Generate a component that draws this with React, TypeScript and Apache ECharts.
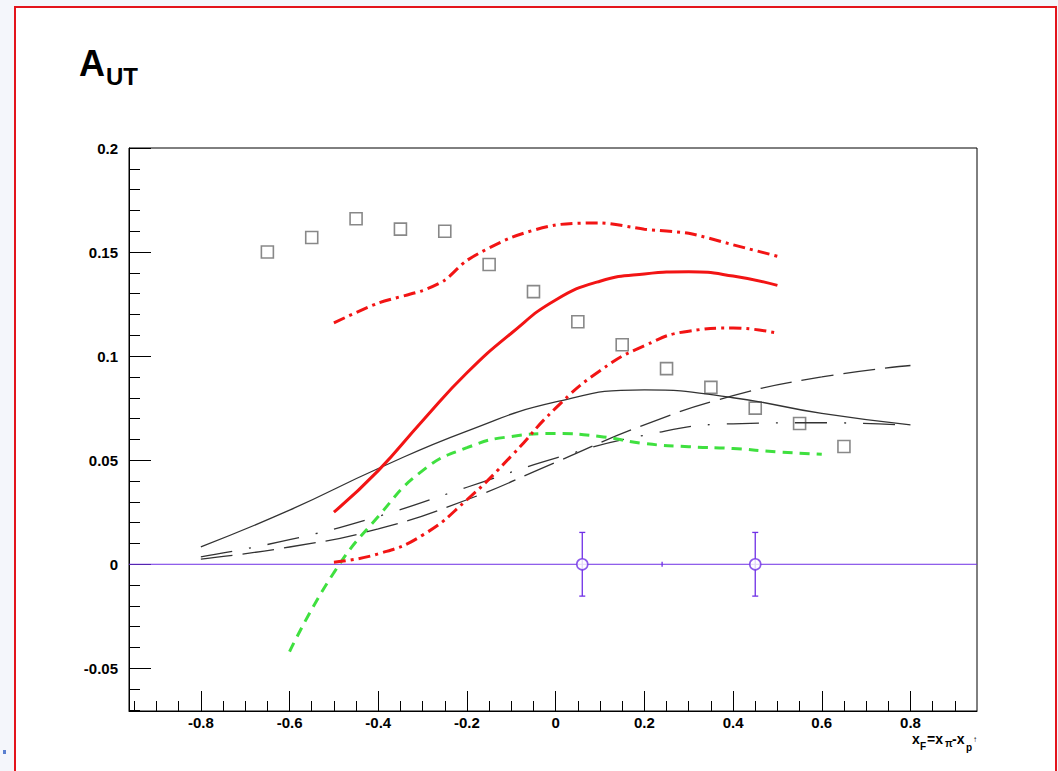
import React, { useEffect, useRef } from "react";
import * as echarts from "echarts";

// ---------- data ----------
const squareX = [-0.65, -0.55, -0.45, -0.35, -0.25, -0.15, -0.05, 0.05, 0.15, 0.25, 0.35, 0.45, 0.55, 0.65];
const squareY = [0.150, 0.157, 0.166, 0.161, 0.160, 0.144, 0.131, 0.1165, 0.1055, 0.094, 0.085, 0.075, 0.0676, 0.0566];

const redSolidX = [-0.5, -0.4, -0.3, -0.2, -0.1, 0, 0.1, 0.2, 0.3, 0.4, 0.5];
const redSolidY = [0.025, 0.045, 0.069, 0.092, 0.111, 0.127, 0.136, 0.1395, 0.1405, 0.1385, 0.134];

const redUpperX = [-0.5, -0.4, -0.3, -0.25, -0.2, -0.1, 0, 0.1, 0.2, 0.3, 0.4, 0.5];
const redUpperY = [0.116, 0.1255, 0.1315, 0.1365, 0.146, 0.157, 0.163, 0.164, 0.161, 0.159, 0.1535, 0.148];

const redLowerX = [-0.5, -0.4, -0.3, -0.2, -0.1, 0, 0.1, 0.2, 0.3, 0.4, 0.5];
const redLowerY = [0.001, 0.005, 0.014, 0.031, 0.052, 0.075, 0.093, 0.105, 0.112, 0.1135, 0.111];

const greenX = [-0.6, -0.5, -0.4, -0.3, -0.2, -0.1, 0, 0.1, 0.2, 0.3, 0.4, 0.5, 0.6];
const greenY = [-0.042, -0.004, 0.023, 0.045, 0.056, 0.0614, 0.0628, 0.0614, 0.058, 0.0565, 0.0556, 0.054, 0.0528];

const blackSolidX = [-0.8, -0.6, -0.4, -0.2, 0, 0.2, 0.4, 0.6, 0.8];
const blackSolidY = [0.0084, 0.026, 0.046, 0.064, 0.078, 0.0838, 0.080, 0.0725, 0.067];

const longDashX = [-0.8, -0.6, -0.4, -0.2, 0, 0.2, 0.4, 0.6, 0.8];
const longDashY = [0.0025, 0.0083, 0.017, 0.031, 0.049, 0.067, 0.081, 0.090, 0.0955];

const dashDotX = [-0.8, -0.6, -0.4, -0.2, 0, 0.2, 0.4, 0.6, 0.8];
const dashDotY = [0.0036, 0.0118, 0.023, 0.037, 0.051, 0.062, 0.0675, 0.068, 0.0667];

// measured points with error bars
const pointX = [0.06, 0.45];
const pointY = [0, 0];
const pointErr = [0.0153, 0.0153];
const smallMarkX = [0.24];
const smallMarkErr = [0.0012];

// axes
const X_MIN = -0.962;
const X_MAX = 0.95;
const Y_MIN = -0.0705;
const Y_MAX = 0.2;
const xMajor = [-0.8, -0.6, -0.4, -0.2, 0, 0.2, 0.4, 0.6, 0.8];
const xMinor = [-0.95, -0.9, -0.85, -0.75, -0.7, -0.65, -0.55, -0.5, -0.45, -0.35, -0.3, -0.25, -0.15, -0.1, -0.05,
  0.05, 0.1, 0.15, 0.25, 0.3, 0.35, 0.45, 0.5, 0.55, 0.65, 0.7, 0.75, 0.85, 0.9];
const yMajor = [-0.05, 0, 0.05, 0.1, 0.15, 0.2];
const yMinor = [-0.07, -0.06, -0.04, -0.03, -0.02, -0.01, 0.01, 0.02, 0.03, 0.04, 0.06, 0.07, 0.08, 0.09,
  0.11, 0.12, 0.13, 0.14, 0.16, 0.17, 0.18, 0.19];

const zip = (xs: number[], ys: number[]) => xs.map((x, i) => [x, ys[i]]);
const fmt = (v: number) => String(Math.round(v * 100) / 100);

const FONT = "'Liberation Sans', Arial, sans-serif";
const PURPLE = "#6f2fe6";

export default function App() {
  const ref = useRef<HTMLDivElement>(null);
  useEffect(() => {
    if (!ref.current) return;
    const chart = echarts.init(ref.current, undefined, { renderer: "svg" });
    const lineBase = { type: "line", smooth: 0.5, symbol: "none", silent: true, xAxisIndex: 0, yAxisIndex: 0 } as any;
    const axisLine = { show: true, onZero: false, lineStyle: { color: "#000", width: 1 } };
    const noLine = { show: false, onZero: false };
    const label = { color: "#000", fontFamily: FONT, fontWeight: "bold", fontSize: 15 };
    const option: any = {
      animation: false,
      backgroundColor: "#f4f6fb",
      grid: { left: 129, top: 148, right: 81, bottom: 60, show: true, borderColor: "#000", borderWidth: 1, backgroundColor: "transparent" },
      xAxis: [
        {
          type: "value", min: X_MIN, max: X_MAX, position: "bottom",
          axisLine,
          axisTick: { show: true, inside: true, length: 20, customValues: xMajor, lineStyle: { color: "#000", width: 1 } },
          axisLabel: { show: true, customValues: xMajor, formatter: fmt, margin: 4, ...label },
          splitLine: { show: false },
        },
        {
          type: "value", min: X_MIN, max: X_MAX, position: "bottom",
          axisLine: noLine,
          axisTick: { show: true, inside: true, length: 10, customValues: xMinor, lineStyle: { color: "#000", width: 1 } },
          axisLabel: { show: false },
          splitLine: { show: false },
        },
      ],
      yAxis: [
        {
          type: "value", min: Y_MIN, max: Y_MAX, position: "left",
          axisLine,
          axisTick: { show: true, inside: true, length: 22, customValues: yMajor, lineStyle: { color: "#000", width: 1 } },
          axisLabel: { show: true, customValues: yMajor, formatter: fmt, margin: 11, ...label },
          splitLine: { show: false },
        },
        {
          type: "value", min: Y_MIN, max: Y_MAX, position: "left",
          axisLine: noLine,
          axisTick: { show: true, inside: true, length: 11, customValues: yMinor, lineStyle: { color: "#000", width: 1 } },
          axisLabel: { show: false },
          splitLine: { show: false },
        },
      ],
      graphic: [
        { type: "rect", z: -10, shape: { x: 15, y: 7, width: 1041, height: 790 }, style: { fill: "#fff", stroke: "#e3141c", lineWidth: 2 } },
        { type: "rect", z: -10, shape: { x: 3, y: 750, width: 3, height: 4 }, style: { fill: "#5a7fd0" } },
        { type: "text", x: 79, y: 45, style: { text: "A", fontFamily: FONT, fontWeight: "bold", fontSize: 36, fill: "#000" } },
        { type: "text", x: 106, y: 64, style: { text: "UT", fontFamily: FONT, fontWeight: "bold", fontSize: 24, fill: "#000" } },
        { type: "text", x: 912, y: 732, style: { text: "x", fontFamily: FONT, fontWeight: "bold", fontSize: 14, fill: "#000" } },
        { type: "text", x: 920, y: 741, style: { text: "F", fontFamily: FONT, fontWeight: "bold", fontSize: 10, fill: "#000" } },
        { type: "text", x: 927, y: 732, style: { text: "=x", fontFamily: FONT, fontWeight: "bold", fontSize: 14, fill: "#000" } },
        { type: "text", x: 945, y: 738, style: { text: "π", fontFamily: FONT, fontWeight: "bold", fontSize: 10, fill: "#000" } },
        { type: "text", x: 952, y: 732, style: { text: "-x", fontFamily: FONT, fontWeight: "bold", fontSize: 14, fill: "#000" } },
        { type: "text", x: 966, y: 742, style: { text: "p", fontFamily: FONT, fontWeight: "bold", fontSize: 10, fill: "#000" } },
        { type: "text", x: 973, y: 735, style: { text: "↑", fontFamily: FONT, fontSize: 8, fill: "#000" } },
      ],
      series: [
        { ...lineBase, name: "zero", smooth: false, data: [[X_MIN, 0], [X_MAX, 0]], lineStyle: { color: PURPLE, width: 1 } },
        { ...lineBase, name: "black solid", data: zip(blackSolidX, blackSolidY), lineStyle: { color: "#333", width: 1.3 } },
        { ...lineBase, name: "black long dash", data: zip(longDashX, longDashY), lineStyle: { color: "#333", width: 1.3, type: [32, 10] } },
        { ...lineBase, name: "black dash dot", data: zip(dashDotX, dashDotY), lineStyle: { color: "#333", width: 1.3, type: [32, 17, 2, 17] } },
        { ...lineBase, name: "green", data: zip(greenX, greenY), lineStyle: { color: "#3fe03f", width: 3, type: [10, 7] } },
        { ...lineBase, name: "red solid", data: zip(redSolidX, redSolidY), lineStyle: { color: "#f21414", width: 3 } },
        { ...lineBase, name: "red upper", smooth: 0.25, data: zip(redUpperX, redUpperY), lineStyle: { color: "#f21414", width: 3, type: [12, 5, 3, 5] } },
        { ...lineBase, name: "red lower", data: zip(redLowerX, redLowerY), lineStyle: { color: "#f21414", width: 3, type: [12, 5, 3, 5] } },
        {
          type: "scatter", name: "squares", silent: true, symbol: "rect", symbolSize: 12,
          data: zip(squareX, squareY),
          itemStyle: { color: "rgba(0,0,0,0)", borderColor: "#6a6a6a", borderWidth: 1.6 },
        },
        {
          type: "custom", name: "errors", silent: true,
          data: [
            ...pointX.map((x, i) => [x, pointY[i], pointErr[i], 3]),
            ...smallMarkX.map((x, i) => [x, 0, smallMarkErr[i], 0]),
          ],
          renderItem: (params: any, api: any) => {
            const x = api.value(0), y = api.value(1), e = api.value(2), cap = api.value(3);
            const top = api.coord([x, y + e]);
            const bot = api.coord([x, y - e]);
            const st = { stroke: PURPLE, lineWidth: 1.3 };
            const children: any[] = [
              { type: "line", shape: { x1: top[0], y1: top[1], x2: bot[0], y2: bot[1] }, style: st },
            ];
            if (cap > 0) {
              children.push({ type: "line", shape: { x1: top[0] - cap, y1: top[1], x2: top[0] + cap, y2: top[1] }, style: st });
              children.push({ type: "line", shape: { x1: bot[0] - cap, y1: bot[1], x2: bot[0] + cap, y2: bot[1] }, style: st });
            }
            return { type: "group", children };
          },
        },
        {
          type: "scatter", name: "points", silent: true, symbol: "circle", symbolSize: 11,
          data: zip(pointX, pointY),
          itemStyle: { color: "#fff", borderColor: PURPLE, borderWidth: 1.6 },
          z: 5,
        },
      ],
    };
    chart.setOption(option);
    return () => chart.dispose();
  }, []);
  return <div ref={ref} style={{ position: "fixed", left: 0, top: 0, width: 1058, height: 771 }} />;
}
